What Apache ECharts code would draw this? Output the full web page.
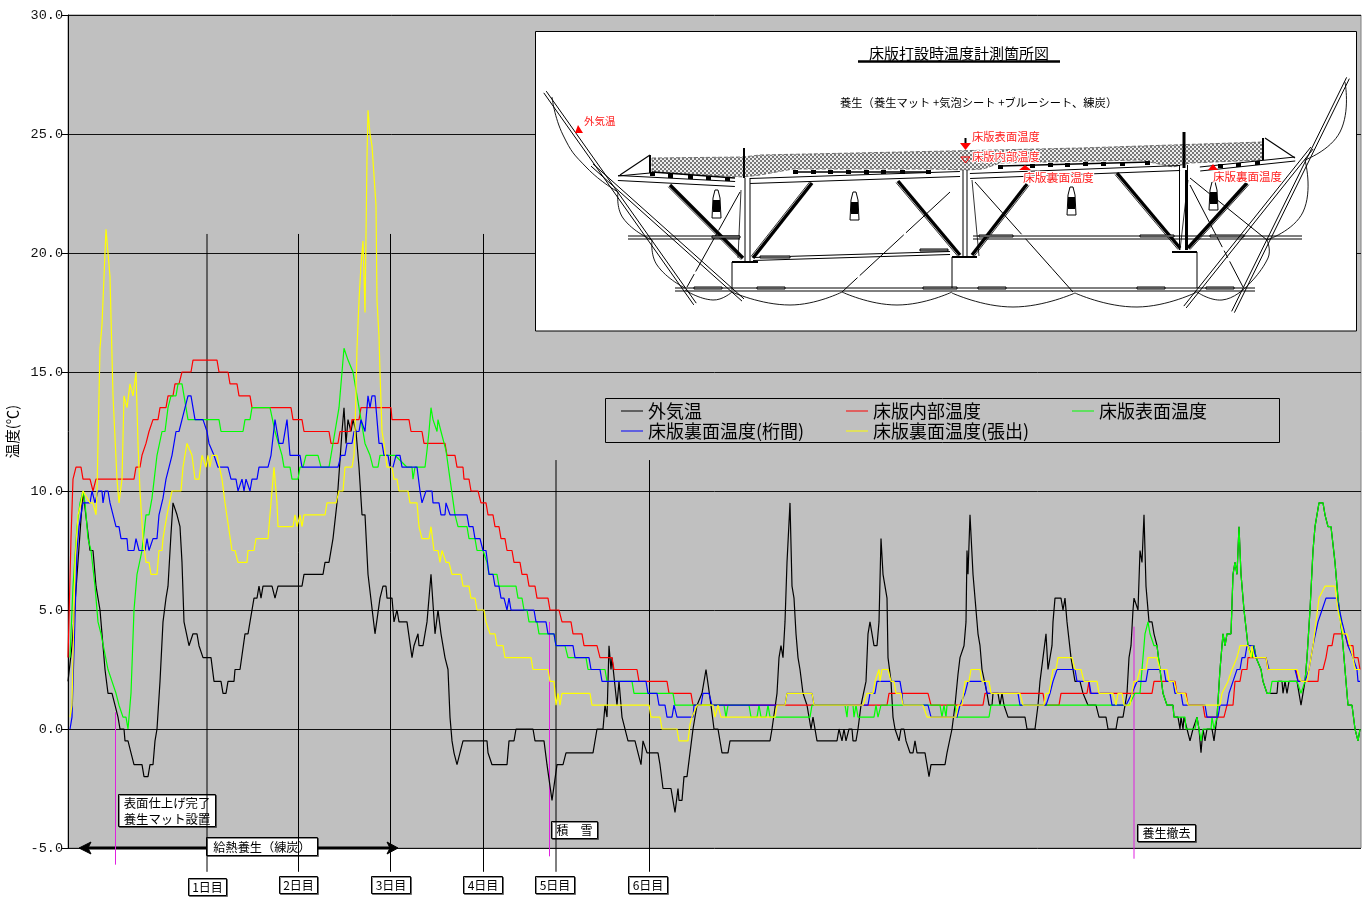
<!DOCTYPE html>
<html>
<head>
<meta charset="utf-8">
<title>床版打設時温度</title>
<script src="https://cdn.jsdelivr.net/npm/echarts@6/dist/echarts.min.js"></script>
<style>
  html, body { margin: 0; background: #fff; }
  #chart { width: 1370px; height: 897px; }
</style>
</head>
<body>
<div id="chart"></div>
<script>
// x = elapsed time, about 92 units per day (the original has no time labels)
const outsideTemp = [[0,2],[4,3.5],[15,10],[22,7.5],[25,7.5],[28,6],[32,5],[35,3.5],[36,3.5],[37,2.5],[39,2.5],[40,1.5],[44,1.5],[47,1],[50,.5],[52,0],[56,0],[57,-.5],[60,-.5],[63,-1],[65,-1],[66,-1.5],[74,-1.5],[76,-2],[80,-2],[82,-1.5],[85,-1.5],[87,-.5],[89,0],[92,2],[95,4.5],[98,5.5],[100,6],[103,8.2],[105,9.5],[109,9],[112,8.5],[114,7],[116,4.5],[118,4.5],[121,3.5],[123,3.5],[125,4],[129,4],[131,3.5],[133,3.5],[135,3],[143,3],[146,2],[153,2],[155,1.5],[158,1.5],[160,2],[166,2],[167,2.5],[172,2.5],[177,4],[180,4],[182,4.5],[184,4.5],[186,5.5],[189,5.5],[191,6],[193,5.5],[195,6],[204,6],[207,5.5],[209,5.5],[210,6],[234,6],[236,6.5],[255,6.5],[257,7],[261,7],[265,8],[269,9.5],[274,12.5],[276,13.5],[278,12],[280,13],[283,12.5],[285,13],[288,12.5],[291,11],[294,9],[297,9],[300,6.5],[302,6.5],[307,4],[308,4],[312,5.5],[313,5.5],[315,6],[318,6],[319,5.5],[324,5.5],[326,4.5],[329,5],[331,4.5],[339,4.5],[344,3],[346,3.5],[348,3.5],[350,4],[351,3.5],[355,3.5],[359,4.5],[363,6.5],[367,4],[370,5],[373,4],[374,4],[377,3],[379,3],[380,2.5],[382,.5],[384,-.5],[386,-1],[387,-1],[389,-1.5],[391,-1.5],[395,-.5],[419,-.5],[420,-1],[421,-1],[424,-1.5],[439,-1.5],[441,-.5],[446,-.5],[448,0],[465,0],[467,-.5],[476,-.5],[479,-1.5],[484,-3],[489,-1.5],[495,-1.5],[498,-1],[525,-1],[529,0],[535,0],[537,1],[539,.5],[541,3.5],[543,2.5],[544,3],[549,1],[551,2],[554,.5],[556,.5],[560,-.5],[567,-.5],[570,-1],[571,-1],[573,-1.5],[575,-.5],[577,-.5],[579,-1],[590,-1],[592,-1.5],[594,-1.5],[595,-2.5],[603,-2.5],[607,-3.5],[609,-3.5],[610,-2.5],[611,-3],[614,-3],[616,-2],[619,-2],[622,-1],[625,0],[629,1],[634,1.5],[638,2.5],[639,2.5],[643,1],[646,0],[650,0],[654,-1],[660,-1],[662,-.5],[702,-.5],[704,0],[706,0],[709,1.5],[711,3],[713,3.5],[715,3],[717,4.5],[719,7],[720,7],[722,9.5],[724,6],[726,5.5],[728,4],[730,3],[732,2.5],[735,1.5],[739,1],[741,1],[743,0],[745,.5],[746,.5],[749,-.5],[769,-.5],[771,0],[774,-.5],[776,0],[778,-.5],[781,0],[784,0],[785,-.5],[788,-.5],[790,0],[793,1],[798,2],[800,4],[802,4.5],[804,4.5],[806,3.5],[809,3.5],[811,4.5],[813,8],[815,6.5],[819,5.5],[820,3],[823,2],[825,.5],[827,0],[829,0],[831,-.5],[833,0],[836,0],[838,-.5],[840,-.5],[842,-1],[845,-1],[847,-.5],[849,-1],[857,-1],[859,-1.5],[861,-2],[863,-1.5],[877,-1.5],[879,-1],[881,-1],[884,0],[887,1],[890,2.3],[892,3],[894,3],[896,3.5],[898,4.5],[899,7.5],[900,6.5],[902,9],[905,6.5],[907,6.5],[910,4],[912,3.5],[914,2.5],[916,2.5],[919,1.5],[921,1],[924,1],[925,1.5],[930,1.5],[932,1],[934,1.5],[936,1],[938,1],[940,.5],[957,.5],[959,0],[967,0],[970,1],[972,2],[975,3],[978,4],[980,2.5],[984,3.5],[985,4.5],[987,5.5],[993,5.5],[995,5],[997,5.5],[999,4.5],[1003,3],[1007,2],[1012,2],[1015,1.5],[1020,1],[1028,1],[1031,.5],[1038,.5],[1040,0],[1048,0],[1050,.5],[1055,.5],[1059,1.5],[1061,3],[1063,3.5],[1065,5],[1066,5.5],[1070,5],[1072,7.5],[1074,7],[1076,9],[1078,6],[1081,4.5],[1084,4.5],[1086,4],[1089,3.5],[1092,2.5],[1095,1.5],[1099,1],[1105,1],[1106,.5],[1110,.5],[1112,0],[1113,.5],[1115,0],[1116,.5],[1119,0],[1122,-.5],[1125,0],[1129,.5],[1131,0],[1133,-1],[1135,0],[1137,-.5],[1139,0],[1144,0],[1146,-.5],[1149,.5],[1152,2.5],[1155,4],[1157,3.5],[1159,4],[1163,4],[1165,6.5],[1167,7],[1169,6.5],[1171,8.5],[1173,6.5],[1176,5],[1180,3.5],[1182,3.5],[1184,3],[1186,3.5],[1188,3],[1190,3],[1193,2.5],[1195,2],[1199,1.5],[1209,1.5],[1210,2],[1214,2],[1215,1.5],[1217,2],[1219,1.5],[1221,2],[1229,2],[1233,1],[1237,2],[1239,3],[1242,5],[1245,7.5],[1247,8.5],[1251,9.5],[1255,9.5],[1257,9],[1260,8.5],[1263,8.5],[1267,7],[1270,5.5],[1274,4],[1277,2.5],[1280,1],[1284,1],[1287,0],[1290,-.5],[1292,0]];

const innerTemp = [[0,3],[3,8],[5,10.5],[8,11],[13,11],[15,10.5],[22,10.5],[25,10],[28,10.5],[66,10.5],[68,11],[72,11],[74,11.5],[76,11.5],[78,12],[79,12],[81,12.5],[83,12.5],[85,13],[90,13],[92,13.5],[98,13.5],[100,14],[105,14],[107,14.5],[111,14.5],[114,15],[123,15],[125,15.5],[149,15.5],[151,15],[160,15],[162,14.5],[169,14.5],[171,14],[182,14],[184,13.5],[223,13.5],[225,13],[234,13],[236,12.5],[261,12.5],[263,12],[270,12],[272,12.5],[282,12.5],[284,13],[291,13],[293,13.5],[323,13.5],[324,13],[341,13],[343,12.5],[354,12.5],[356,12],[377,12],[379,11.5],[387,11.5],[389,11],[395,11],[396,10.5],[401,10.5],[403,10],[410,10],[413,9.5],[418,9.5],[420,9],[425,9],[427,8.5],[431,8.5],[433,8],[437,8],[439,7.5],[444,7.5],[446,7],[452,7],[454,6.5],[459,6.5],[461,6],[467,6],[469,5.5],[480,5.5],[482,5],[491,5],[494,4.5],[503,4.5],[505,4],[514,4],[516,3.5],[529,3.5],[532,3],[544,3],[546,2.5],[569,2.5],[571,2],[599,2],[601,1.5],[623,1.5],[625,1],[819,1],[821,1.5],[860,1.5],[863,1],[915,1],[917,1.5],[975,1.5],[977,1],[991,1],[993,1.5],[1019,1.5],[1021,2],[1022,1.5],[1084,1.5],[1086,2],[1107,2],[1109,1.5],[1118,1.5],[1120,1],[1135,1],[1137,.5],[1156,.5],[1159,1],[1165,1],[1167,2],[1172,2],[1174,2.5],[1179,2.5],[1180,3],[1198,3],[1200,2.5],[1228,2.5],[1230,2],[1250,2],[1251,2.5],[1255,2.5],[1258,3],[1260,3.5],[1264,3.5],[1266,4],[1277,4],[1280,3.5],[1285,3.5],[1286,3],[1290,3],[1292,2.5]];

const surfaceTemp = [[2,3],[5,6],[9,8.5],[12,9.5],[15,10],[17,9.5],[20,8],[23,7.5],[24,7.5],[27,6],[30,4.5],[33,4],[35,4],[40,2.5],[42,2.5],[44,2],[46,2],[48,1.5],[50,1.5],[51,1],[53,1],[55,.5],[58,.5],[60,0],[63,1.5],[66,5],[69,6.5],[74,7.5],[78,9],[81,9],[84,9.7],[89,11.5],[94,12.5],[97,12.5],[100,13.5],[102,13.5],[103,14],[108,14],[110,14.5],[114,14.5],[120,13],[151,13],[153,12.5],[175,12.5],[177,13],[182,13],[184,13.5],[202,13.5],[207,12.5],[209,12.5],[214,11.5],[216,11],[222,11],[224,10.5],[230,10.5],[232,11],[235,11],[238,11.5],[250,11.5],[253,11],[261,11],[263,11.5],[265,11.5],[267,12.5],[271,13.5],[272,13.5],[276,16],[278,16],[280,15.5],[282,15.5],[285,15],[286,15],[291,13.5],[297,12],[299,12],[302,11.5],[303,11.5],[305,11],[310,11],[312,11.5],[327,11.5],[339,11],[344,11],[345,10.5],[347,11],[357,11],[359,11.7],[361,12.5],[363,13.5],[365,13],[367,13],[369,12.5],[370,13],[373,12.5],[375,12.5],[378,11.7],[387,9],[390,8.5],[399,8.5],[401,8],[407,8],[409,7.5],[415,7.5],[419,7],[421,6.5],[429,6.5],[431,6],[448,6],[450,5.5],[454,5.5],[456,5],[459,5],[461,4.5],[469,4.5],[471,4],[486,4],[488,3.5],[497,3.5],[500,3],[518,3],[520,2.5],[537,2.5],[539,2],[564,2],[566,1.5],[605,1.5],[607,1],[656,1],[658,.5],[660,1],[681,1],[683,.5],[689,.5],[691,1],[693,.5],[698,.5],[700,1],[702,.5],[742,.5],[744,1],[777,1],[779,.5],[780,1],[785,1],[786,.5],[788,1],[790,.5],[806,.5],[808,1],[810,.5],[813,1],[872,1],[874,.5],[876,1],[878,.5],[879,1],[887,1],[889,.5],[921,.5],[923,1],[1061,1],[1067,1.5],[1072,1.5],[1075,3],[1077,4],[1080,4.5],[1082,4],[1084,4],[1086,3.5],[1089,3.5],[1092,2.5],[1095,1.5],[1099,1],[1105,1],[1106,.5],[1117,.5],[1118,0],[1127,0],[1129,.5],[1131,0],[1133,-.5],[1135,0],[1143,0],[1144,.5],[1146,0],[1149,.5],[1152,2.5],[1155,4],[1157,3.5],[1159,4],[1163,4],[1165,6.5],[1167,7],[1169,6.5],[1171,8.5],[1173,6.5],[1176,5],[1180,3.5],[1182,3.5],[1184,3],[1186,3.5],[1188,3],[1190,3],[1193,2.5],[1195,2],[1199,1.5],[1202,1.5],[1204,2],[1229,2],[1233,1.5],[1237,2],[1239,3],[1242,5],[1245,7.5],[1247,8.5],[1251,9.5],[1255,9.5],[1257,9],[1260,8.5],[1263,8.5],[1267,7],[1270,5.5],[1274,4],[1277,2.5],[1280,1],[1284,1],[1287,0],[1290,-.5],[1292,0]];

const underGirderTemp = [[2,0],[4,.5],[9,7.5],[11,8.5],[15,9.5],[22,9.5],[24,10],[27,9.5],[30,10],[34,10],[35,9.5],[37,10],[40,10],[42,9.5],[43,9.5],[48,8.5],[51,8.5],[53,8],[59,8],[60,7.5],[66,7.5],[68,8],[69,8],[71,7.5],[77,7.5],[79,8],[81,7.5],[83,7.5],[85,8],[89,8],[91,9],[93,9],[95,9.7],[98,10.5],[100,10.5],[104,11.5],[106,11.5],[108,12.5],[111,12.5],[114,13],[116,13],[120,14],[123,14],[127,13],[135,13],[139,12.5],[141,12],[143,12],[146,11.5],[148,11.5],[150,11],[160,11],[163,10.5],[168,10.5],[170,10],[172,10],[174,10.5],[176,10],[178,10.5],[180,10.5],[182,10],[184,10.5],[189,10.5],[191,11],[200,11],[203,11.5],[205,11.5],[207,13],[209,12.5],[211,12],[215,12],[219,13],[222,11.5],[232,11.5],[234,11],[270,11],[273,11.5],[277,11.5],[279,12],[284,12],[286,12.5],[291,12.5],[293,13],[295,13],[297,12.5],[300,14],[302,13.5],[304,14],[307,14],[311,12],[314,12],[316,11.5],[320,11.5],[322,11],[325,11],[328,11.5],[332,11.5],[334,11],[349,11],[352,10],[354,9.5],[358,10],[364,10],[365,9.5],[371,9.5],[373,9],[377,9],[378,9.5],[380,9.5],[382,9],[399,9],[401,8.5],[405,8.5],[407,8],[412,8],[415,7.5],[418,7.5],[421,6.5],[425,6.5],[427,6],[431,6],[433,5.5],[436,5.5],[439,5],[441,5.5],[443,5],[466,5],[468,4.5],[478,4.5],[480,4],[486,4],[488,3.5],[505,3.5],[507,3],[521,3],[523,2.5],[532,2.5],[534,2],[578,2],[580,1.5],[589,1.5],[591,1],[597,1],[599,.5],[604,.5],[606,1],[609,.5],[625,.5],[626,1],[633,1],[635,1.5],[641,1.5],[644,1],[717,1],[719,1.5],[744,1.5],[746,1],[800,1],[802,1.5],[807,1.5],[809,2],[832,2],[834,1.5],[835,1],[860,1],[863,.5],[889,.5],[892,1],[897,1.5],[900,2],[917,2],[919,1.5],[950,1.5],[952,1],[978,1],[982,1.5],[985,2],[989,2.5],[1007,2.5],[1009,2],[1021,2],[1023,1.5],[1042,1.5],[1044,1],[1058,1],[1064,1.5],[1069,2],[1078,2],[1080,2.5],[1096,2.5],[1098,2],[1105,2],[1107,1.5],[1113,1.5],[1115,1],[1137,1],[1139,.5],[1150,.5],[1152,1],[1159,1],[1161,1.5],[1165,2],[1169,2.5],[1172,2.5],[1174,3],[1177,3],[1179,3.5],[1185,3.5],[1188,3],[1198,3],[1201,2.5],[1227,2.5],[1230,2],[1237,2],[1241,2.5],[1245,3.5],[1250,4.5],[1254,5],[1258,5.5],[1269,5.5],[1274,4.5],[1277,4],[1280,3.5],[1285,3],[1289,2.5],[1290,2],[1292,2]];

const underWingTemp = [[2,.5],[4,1],[7,7],[10,9],[13,9.5],[15,10],[22,9.5],[25,9.5],[28,9],[29,10],[32,16],[34,17],[36,19],[38,21],[42,19],[45,14],[49,10.5],[51,9.5],[54,10.5],[56,14],[59,13.5],[61,13.5],[62,14.5],[65,14],[68,15],[70,12],[72,10],[75,8],[78,7],[81,7],[83,6.5],[89,6.5],[91,7.5],[94,7.5],[95,8],[99,9],[101,9],[104,10],[113,10],[115,11],[119,12],[121,12],[124,11.5],[127,10.5],[131,10.5],[134,11.5],[136,11.5],[138,11],[140,11.5],[142,11],[144,11.5],[149,11.5],[154,10.5],[157,9.5],[164,7.5],[167,7.5],[170,7],[179,7],[180,7.5],[186,7.5],[188,8],[200,8],[202,9],[204,10],[206,11],[209,9.5],[210,8.5],[225,8.5],[227,9],[229,8.5],[232,9],[234,8.5],[236,9],[257,9],[259,9.5],[268,9.5],[271,10],[275,10],[277,11],[284,11],[286,11.5],[287,12.5],[289,16],[291,18],[293,19.5],[295,20.5],[297,17.5],[299,24],[300,26],[302,25],[304,24.5],[306,24.5],[308,22],[309,18],[311,16.5],[312,15],[314,12.5],[316,12],[319,11],[324,11],[326,10.5],[329,10.5],[331,10],[340,10],[342,9.5],[349,9.5],[351,8.5],[354,8],[361,8],[363,8.5],[366,7.5],[370,7.5],[372,7],[374,7.5],[376,7.5],[378,7],[381,7],[384,6.5],[393,6.5],[395,6],[401,6],[403,5.5],[407,5.5],[409,5],[416,5],[418,4.5],[420,4.5],[422,4],[427,4],[429,3.5],[435,3.5],[437,3],[463,3],[465,2.5],[480,2.5],[482,2],[486,2],[488,1],[490,1.5],[492,1],[494,1.5],[522,1.5],[524,1],[581,1],[583,.5],[592,.5],[594,0],[609,0],[611,-.5],[620,-.5],[622,.2],[624,.5],[626,.5],[629,1],[645,1],[647,.5],[649,.5],[650,1],[653,.5],[707,.5],[709,1],[717,1],[719,1.5],[744,1.5],[746,1],[795,1],[799,1.5],[805,1.5],[807,2],[809,2],[811,2.5],[812,2],[814,2.5],[820,2.5],[823,2],[826,2],[828,1.5],[833,1.5],[835,1],[855,1],[859,.5],[888,.5],[890,1],[894,1],[897,2],[901,2],[903,2.5],[912,2.5],[914,2],[921,2],[923,1.5],[952,1.5],[955,1],[976,1],[978,1.5],[981,1.5],[985,2.5],[988,2.5],[990,3],[1004,3],[1007,2.5],[1013,2.5],[1016,2],[1029,2],[1031,1.5],[1045,1.5],[1048,1],[1050,1.5],[1054,1.5],[1056,1],[1062,1],[1066,2],[1069,2],[1072,2.5],[1078,2.5],[1080,3],[1089,3],[1092,2.5],[1099,2.5],[1101,2],[1106,2],[1109,1.5],[1117,1.5],[1120,1],[1152,1],[1154,1.5],[1160,2],[1164,2.5],[1169,3],[1172,3.5],[1180,3.5],[1183,3],[1184,3.5],[1186,3],[1198,3],[1200,2.5],[1229,2.5],[1233,2],[1239,2],[1241,2.5],[1245,3.5],[1251,5.5],[1257,6],[1267,6],[1270,5],[1275,4],[1279,4],[1282,3.5],[1285,3],[1287,2.5],[1292,2.5]];

const seriesNames = ['外気温', '床版内部温度', '床版表面温度', '床版裏面温度(桁間)', '床版裏面温度(張出)'];
const seriesColors = ['#000000', '#ff0000', '#00ff00', '#0000ff', '#ffff00'];
const seriesData = [outsideTemp, innerTemp, surfaceTemp, underGirderTemp, underWingTemp];

// day marker lines, [x, top temp]
const dayLines = [[139, 20.8], [230.5, 20.8], [322.5, 20.8], [415.5, 20.8], [488, 11.3], [581.5, 11.3]];
// event lines, [x, top temp, bottom temp]
const eventLines = [[47.5, 0.7, -5.7], [481.5, 4.5, -5.35], [1066, 4.3, -5.45]];

const yTicks = { min: -5, max: 30, interval: 5 };

const JP = '"Noto Sans CJK JP", sans-serif';

const series = seriesNames.map((name, i) => ({
  name,
  type: 'line',
  data: seriesData[i],
  showSymbol: false,
  z: 3 + i,
  lineStyle: { color: seriesColors[i], width: 1.2 },
  itemStyle: { color: seriesColors[i] }
}));

dayLines.forEach(d => {
  series.push({
    type: 'line', clip: false, showSymbol: false, silent: true, z: 2,
    data: [[d[0], d[1]], [d[0], -6]],
    lineStyle: { color: '#000', width: 1 }
  });
});
eventLines.forEach(d => {
  series.push({
    type: 'line', clip: false, showSymbol: false, silent: true, z: 2,
    data: [[d[0], d[1]], [d[0], d[2]]],
    lineStyle: { color: '#e020e0', width: 1 }
  });
});

// ---- graphic helpers (inset drawing and annotation boxes, page pixels) ----
const g = [];
function line(x1, y1, x2, y2, w, dash) {
  g.push({ type: 'line', z: 1.1, silent: true,
    shape: { x1, y1, x2, y2 },
    style: { stroke: '#000', lineWidth: w || 1, lineDash: dash || null } });
}
function dbl(x1, y1, x2, y2, gap) {   // double member
  const dx = x2 - x1, dy = y2 - y1, l = Math.hypot(dx, dy);
  const ox = -dy / l * gap / 2, oy = dx / l * gap / 2;
  line(x1 + ox, y1 + oy, x2 + ox, y2 + oy, 1);
  line(x1 - ox, y1 - oy, x2 - ox, y2 - oy, 1);
}
function sag(points) {
  g.push({ type: 'polyline', z: 1.1, silent: true,
    shape: { points, smooth: 0.5 },
    style: { stroke: '#000', fill: null, lineWidth: 0.9 } });
}
function box(x, y, w, h, fill, stroke, z) {
  g.push({ type: 'rect', z: z || 1.1, silent: true,
    shape: { x, y, width: w, height: h },
    style: { fill: fill || '#000', stroke: stroke || null, lineWidth: 1 } });
}
function tri(points, fill, stroke) {
  g.push({ type: 'polygon', z: 1.2, silent: true,
    shape: { points },
    style: { fill: fill, stroke: stroke || null, lineWidth: 1 } });
}
function txt(text, x, y, size, color, halo) {
  g.push({ type: 'text', z: 1.3, silent: true, x, y,
    style: { text, fill: color || '#000', font: size + 'px ' + JP, align: 'left', verticalAlign: 'middle',
      stroke: halo ? '#fff' : null, lineWidth: halo ? 2 : 0 } });
}
function labelBox(text, x, y, w, h, size, lineHeight) {
  g.push({ type: 'rect', z: 1.3, silent: true,
    shape: { x: x + 0.5, y: y + 0.5, width: w, height: h },
    style: { fill: '#fff', stroke: '#000', lineWidth: 1, shadowColor: 'rgba(0,0,0,.45)', shadowOffsetX: 1, shadowOffsetY: 1 } });
  g.push({ type: 'text', z: 1.4, silent: true, x: x + w / 2 + 0.5, y: y + h / 2 + 1,
    style: { text, fill: '#000', font: size + 'px ' + JP, align: 'center', verticalAlign: 'middle', lineHeight: lineHeight || size } });
}

// checker pattern of the covering sheet
const patCanvas = document.createElement('canvas');
patCanvas.width = 4; patCanvas.height = 4;
const pctx = patCanvas.getContext('2d');
pctx.fillStyle = '#eeeeee'; pctx.fillRect(0, 0, 4, 4);
pctx.fillStyle = '#777777'; pctx.fillRect(0, 0, 2, 2); pctx.fillRect(2, 2, 2, 2);

// inset frame
box(535.5, 31.5, 821, 299.5, '#fff', '#000');

// sheet
g.push({ type: 'polygon', z: 1.1, silent: true,
  shape: { points: [[652,158],[743,157],[760,155],[950,151],[1080,148],[1263,142],[1262,160],[1190,163],[1173,167],[1140,160],[1000,163],[983,169],[967,170],[933,169],[793,169],[760,175],[743,177],[652,172]] },
  style: { fill: { image: patCanvas, repeat: 'repeat' }, stroke: '#555', lineWidth: 0.8, lineDash: [4, 2] } });

// deck
dbl(618, 178, 735, 184, 5);
line(620, 175, 650, 155, 1.2); line(650, 155, 650, 173, 2); line(618, 176, 650, 173, 1.2);
dbl(750, 181, 960, 174, 5);
dbl(970, 176, 1180, 168, 5);
dbl(1200, 169, 1295, 159, 4);
line(1265, 138, 1295, 158, 1.2); line(1263, 138, 1263, 160, 2);
// form ties under the deck
[[652,172],[670,174],[690,175],[708,176],[727,177],[795,170],[813,170],[830,170],[848,170],[866,170],[883,170],[902,170],[928,170],[1000,165],[1032,164],[1050,163],[1067,163],[1085,162],[1103,162],[1122,162],[1147,161],[1220,164],[1238,163],[1257,161]].forEach(p => box(p[0] - 2, p[1], 5, 4));
line(652, 172, 735, 178, 1.5); line(795, 172, 930, 172, 1.5); line(1000, 166, 1150, 162, 1.5);

// columns
dbl(747.5, 178, 747.5, 262, 5);
line(744, 148, 744, 178, 2);
dbl(965, 170, 965, 258, 4);
dbl(1183.5, 165, 1183.5, 250, 8);
line(1184, 132, 1184, 168, 3);
line(1186, 170, 1186, 250, 2);

// thick diagonals
[[670,185,743,258],[812,183,753,258],[898,181,960,255],[972,255,1027,184],[1117,173,1180,248],[1188,248,1247,183]].forEach(d => {
  line(d[0], d[1], d[2], d[3], 3.4);
  const dx = d[2] - d[0], dy = d[3] - d[1], l = Math.hypot(dx, dy);
  line(d[0] - dy / l * 2.5, d[1] + dx / l * 2.5, d[2] - dy / l * 2.5, d[3] + dx / l * 2.5, 0.8);
});

// cables
line(740, 192, 687, 287, 1, [44, 3]);
line(950, 192, 842, 292, 1, [60, 3]);
line(975, 182, 1073, 292, 1, [70, 6, 40, 0]);
line(1190, 178, 1267, 240, 1);
line(1190, 185, 1243, 287, 1, [70, 4, 8, 4]);
line(741, 190, 738, 258, 0.8);
line(1188, 180, 1180, 250, 0.8);
line(972, 180, 979, 256, 0.8);

// scaffold planks
dbl(628, 237.5, 740, 237.5, 3);
dbl(973, 237.5, 1302, 237.5, 3);
dbl(675, 289.5, 1255, 289.5, 3);
dbl(753, 259, 950, 253, 3);
[[712,236,28],[979,235,34],[1140,235,34],[1210,235,34],[694,287,28],[757,287,28],[923,287,34],[978,287,28],[1137,287,28],[1206,287,28],[920,249,28],[760,256,30]].forEach(p => box(p[0], p[1], p[2], 2, '#aaa', '#000'));

// abutments
line(732, 262, 758, 262, 2); line(732, 262, 732, 290, 1);
line(952, 257, 977, 257, 2); line(952, 257, 952, 288, 1);
line(1172, 252, 1197, 252, 2); line(1197, 252, 1197, 288, 1);

// raking struts
dbl(545, 92, 695, 304, 3);
dbl(592, 165, 743, 300, 3);
dbl(1348, 78, 1233, 312, 3);
dbl(1312, 148, 1185, 307, 3);

// hanging sheets
sag([[552,97],[563,135],[587,168],[618,192]]);
sag([[618,192],[623,218],[652,240]]);
sag([[652,240],[657,265],[685,288]]);
sag([[685,290],[713,300],[732,292]]);
sag([[732,292],[790,305],[842,292]]);
sag([[842,292],[897,305],[952,292]]);
sag([[952,293],[1013,307],[1075,293]]);
sag([[1075,293],[1137,307],[1197,292]]);
sag([[1197,292],[1222,300],[1245,288]]);
sag([[1245,288],[1268,258],[1267,240]]);
sag([[1267,240],[1303,212],[1305,160]]);
sag([[1305,160],[1340,132],[1345,82]]);

// heaters
[[712,190],[850,192],[1067,187],[1209,182]].forEach(p => {
  g.push({ type: 'polygon', z: 1.2, silent: true,
    shape: { points: [[p[0]+3,p[1]],[p[0]+6,p[1]],[p[0]+8,p[1]+8],[p[0]+9,p[1]+28],[p[0],p[1]+28],[p[0]+1,p[1]+8]] },
    style: { fill: '#fff', stroke: '#000', lineWidth: 1 } });
  box(p[0] + 1, p[1] + 10, 7, 12, '#000', null, 1.25);
});

// inset texts
txt('床版打設時温度計測箇所図', 869, 53, 15);
line(858, 61.5, 1060, 61.5, 2.6);
txt('養生（養生マット +気泡シート +ブルーシート、練炭）', 840, 103, 11.3);
const RED = '#ff2020';
txt('外気温', 584, 121, 10.5, RED);
txt('床版表面温度', 972, 137, 11.3, RED, true);
txt('床版内部温度', 972, 157, 11.3, RED, true);
txt('床版裏面温度', 1023, 178, 11.8, RED, true);
txt('床版裏面温度', 1213, 177, 11.5, RED, true);
tri([[575,133],[583,133],[578,125]], '#ff0000');
tri([[960,143],[971,143],[965.5,150]], '#ff0000');
line(965.5, 138, 965.5, 148, 2);
tri([[961,157],[970,157],[965.5,163]], null, '#ff0000');
tri([[1019,170],[1031,170],[1025,165]], '#ff0000');
tri([[1208,170],[1218,170],[1213,164]], '#ff0000');

// legend frame, legend entries come from the legend components
box(605.5, 398.5, 674, 44, '#c0c0c0', '#000');

// heat-curing arrow
line(86, 848, 392, 848, 3);
tri([[79,848],[91,842],[88,848],[91,854]], '#000', '#000');
tri([[398,848],[387,842],[390,848],[387,854]], '#000', '#000');

labelBox('表面仕上げ完了\n養生マット設置', 118, 794, 97, 32, 12.4, 16);
labelBox('給熱養生（練炭）', 206, 837, 111, 18, 12.2);
labelBox('積　雪', 551, 821, 46, 17, 12);
labelBox('養生撤去', 1137, 824, 58, 17, 12);
labelBox('1日目', 188, 878, 38, 17, 12);
labelBox('2日目', 279, 876, 38, 17, 12);
labelBox('3日目', 371, 876, 39, 17, 12);
labelBox('4日目', 463, 876, 39, 17, 12);
labelBox('5日目', 535, 876, 39, 17, 12);
labelBox('6日目', 628, 876, 39, 17, 12);

function legendAt(left, names) {
  return {
    left, top: 402, orient: 'vertical', padding: 0, itemGap: 2,
    itemWidth: 22, itemHeight: 1, icon: 'rect',
    data: names,
    selectedMode: false,
    textStyle: { fontFamily: JP, fontSize: 18, color: '#000', lineHeight: 18 }
  };
}

const chart = echarts.init(document.getElementById('chart'), null, { renderer: 'canvas' });
chart.setOption({
  animation: false,
  backgroundColor: '#fff',
  grid: { left: 68, right: 9, top: 15, bottom: 49, outerBoundsMode: 'none', show: true, backgroundColor: '#c0c0c0', borderColor: '#808080', borderWidth: 1 },
  legend: [
    legendAt(621, [seriesNames[0], seriesNames[3]]),
    legendAt(846, [seriesNames[1], seriesNames[4]]),
    legendAt(1072, [seriesNames[2]])
  ],
  xAxis: { type: 'value', min: 0, max: 1293, show: false, splitLine: { show: false } },
  yAxis: {
    type: 'value',
    min: yTicks.min, max: yTicks.max, interval: yTicks.interval,
    name: '温度(℃)', nameLocation: 'middle', nameGap: 46, nameRotate: 90,
    nameTextStyle: { fontFamily: JP, fontSize: 14.5, color: '#000' },
    axisLine: { show: true, onZero: false, lineStyle: { color: '#000' } },
    axisTick: { show: true, length: 6, lineStyle: { color: '#000' } },
    axisLabel: { fontFamily: '"Liberation Mono", monospace', fontSize: 13.5, color: '#111', margin: 5, formatter: v => v.toFixed(1), showMinLabel: true, showMaxLabel: true },
    splitLine: { show: true, lineStyle: { color: '#111', width: 1 } }
  },
  series,
  graphic: { elements: g }
});
</script>
</body>
</html>
